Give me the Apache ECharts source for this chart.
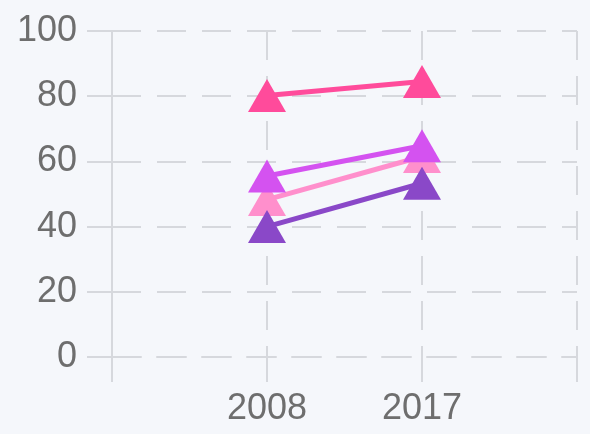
<!DOCTYPE html>
<html>
<head>
<meta charset="utf-8">
<script src="https://cdn.jsdelivr.net/npm/echarts@6/dist/echarts.min.js"></script>
<style>
html,body{margin:0;padding:0;background:#f5f7fb;}
#chart{width:590px;height:434px;}
</style>
</head>
<body>
<div id="chart"></div>
<script>
var categories = ['', '2008', '2017', ''];
var yTicks = [0, 20, 40, 60, 80, 100];
var seriesA = [null, 80.2, 84.5, null];   // hot pink
var seriesB = [null, 48.3, 61.5, null];   // light pink
var seriesC = [null, 55.5, 64.8, null];   // magenta
var seriesD = [null, 40.0, 53.3, null];   // purple
var colors = ['#ff4b9b', '#ff8fcc', '#d452f0', '#8a48c8'];

var gridColor = '#d6d8dd';
var dash = [29, 16];
function mk(data, color) {
  return {
    type: 'line',
    data: data,
    symbol: 'triangle',
    symbolSize: [38, 33],
    lineStyle: { width: 5, color: color },
    itemStyle: { color: color },
    connectNulls: false,
    animation: false
  };
}
var chart = echarts.init(document.getElementById('chart'));
chart.setOption({
  backgroundColor: '#f5f7fb',
  animation: false,
  grid: { left: 112, right: 13, top: 31, bottom: 77 },
  xAxis: {
    type: 'category',
    data: categories,
    boundaryGap: false,
    axisLine: { show: true, lineStyle: { color: gridColor, width: 2, type: dash } },
    axisTick: { show: true, length: 25, alignWithLabel: true, lineStyle: { color: gridColor, width: 2, type: dash } },
    splitLine: { show: true, lineStyle: { color: gridColor, width: 2, type: dash } },
    axisLabel: { color: '#6e6e6e', fontSize: 36, fontFamily: 'Liberation Sans', margin: 34, interval: 0 }
  },
  yAxis: {
    type: 'value',
    min: yTicks[0],
    max: yTicks[yTicks.length - 1],
    interval: 20,
    axisLine: { show: true, lineStyle: { color: gridColor, width: 2, type: dash } },
    axisTick: { show: true, length: 25, lineStyle: { color: gridColor, width: 2, type: dash } },
    splitLine: { show: true, lineStyle: { color: gridColor, width: 2, type: dash } },
    axisLabel: { color: '#6e6e6e', fontSize: 36, fontFamily: 'Liberation Sans', margin: 35 }
  },
  series: [
    mk(seriesA, colors[0]),
    mk(seriesB, colors[1]),
    mk(seriesC, colors[2]),
    mk(seriesD, colors[3])
  ]
});
</script>
</body>
</html>
